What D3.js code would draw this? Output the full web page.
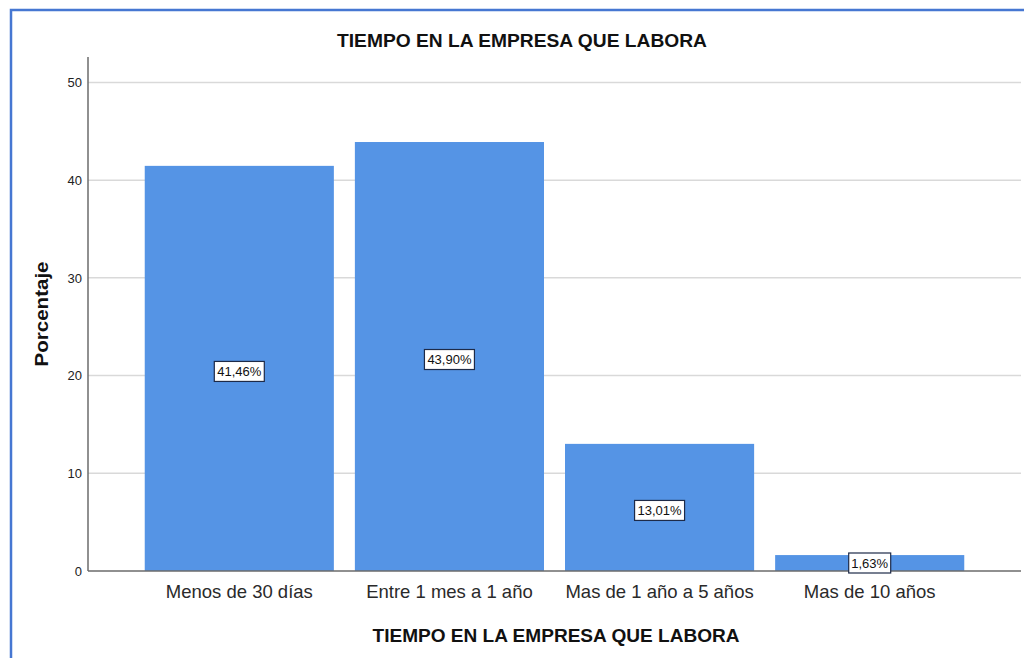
<!DOCTYPE html>
<html>
<head>
<meta charset="utf-8">
<script src="https://cdn.jsdelivr.net/npm/d3@7"></script>
<style>
  body { margin: 0; background: #fff; }
  svg { display: block; font-family: "Liberation Sans", Arial, sans-serif; }
</style>
</head>
<body>
<svg width="1024" height="658"></svg>
<script>
'use strict';

var categories = ["Menos de 30 días", "Entre 1 mes a 1 año", "Mas de 1 año a 5 años", "Mas de 10 años"];
var values = [41.46, 43.90, 13.01, 1.63];
var valueLabels = ["41,46%", "43,90%", "13,01%", "1,63%"];
var yTicks = [0, 10, 20, 30, 40, 50];

var chartTitle = "TIEMPO EN LA EMPRESA QUE LABORA";
var xTitle = "TIEMPO EN LA EMPRESA QUE LABORA";
var yTitle = "Porcentaje";

var svg = d3.select("svg");

// outer frame
svg.append("rect")
  .attr("x", 11).attr("y", 10)
  .attr("width", 1100).attr("height", 800)
  .attr("fill", "none")
  .attr("stroke", "#4677d2")
  .attr("stroke-width", 2.5);

// plot area
var plotLeft = 88, plotRight = 1021, plotTop = 57, plotBottom = 571;

var x = d3.scaleBand()
  .domain(categories)
  .range([plotLeft, plotRight])
  .paddingInner(0.1)
  .paddingOuter(0.27);

var y = d3.scaleLinear().domain([0, 52.6]).range([plotBottom, plotTop]);

// gridlines
svg.append("g")
  .selectAll("line")
  .data(yTicks.filter(function(d) { return d > 0; }))
  .enter()
  .append("line")
  .attr("x1", plotLeft).attr("x2", plotRight)
  .attr("y1", function(d) { return y(d); })
  .attr("y2", function(d) { return y(d); })
  .attr("stroke", "#d9d9d9")
  .attr("stroke-width", 1.5);

// bars
svg.append("g")
  .selectAll("rect")
  .data(values)
  .enter()
  .append("rect")
  .attr("x", function(d, i) { return x(categories[i]); })
  .attr("y", function(d) { return y(d); })
  .attr("width", x.bandwidth())
  .attr("height", function(d) { return y(0) - y(d); })
  .attr("fill", "#5594e5");

// y axis
var yAxis = svg.append("g")
  .attr("transform", "translate(" + plotLeft + ",0)")
  .call(d3.axisLeft(y).tickValues(yTicks).tickSize(0).tickPadding(6));
yAxis.select(".domain").remove();
yAxis.selectAll("text")
  .attr("font-size", 13)
  .attr("fill", "#222")
  .attr("font-family", "Liberation Sans, Arial, sans-serif");

svg.append("line")
  .attr("x1", plotLeft).attr("x2", plotLeft)
  .attr("y1", plotTop).attr("y2", plotBottom)
  .attr("stroke", "#6b6b6b").attr("stroke-width", 1.5);

// x axis
var xAxis = svg.append("g")
  .attr("transform", "translate(0," + plotBottom + ")")
  .call(d3.axisBottom(x).tickSize(0).tickPadding(14));
xAxis.select(".domain").remove();
xAxis.selectAll("text")
  .attr("font-size", 18.5)
  .attr("fill", "#2a2a2a")
  .attr("font-family", "Liberation Sans, Arial, sans-serif");

svg.append("line")
  .attr("x1", plotLeft).attr("x2", plotRight)
  .attr("y1", plotBottom).attr("y2", plotBottom)
  .attr("stroke", "#6b6b6b").attr("stroke-width", 1.5);

// value labels in boxes
var labels = svg.append("g")
  .selectAll("g")
  .data(values)
  .enter()
  .append("g")
  .attr("transform", function(d, i) {
    var cx = x(categories[i]) + x.bandwidth() / 2;
    var cy = Math.min(y(d / 2) + 3, plotBottom - 8);
    return "translate(" + cx + "," + cy + ")";
  });

labels.append("rect")
  .attr("x", function(d, i) { return valueLabels[i].length > 5 ? -25 : -21; })
  .attr("y", -10)
  .attr("width", function(d, i) { return valueLabels[i].length > 5 ? 50 : 42; })
  .attr("height", 20)
  .attr("fill", "#fff")
  .attr("stroke", "#1d2a48")
  .attr("stroke-width", 1.2);

labels.append("text")
  .attr("text-anchor", "middle")
  .attr("dy", "0.36em")
  .attr("font-size", 13)
  .attr("fill", "#111")
  .text(function(d, i) { return valueLabels[i]; });

// titles
svg.append("text")
  .attr("x", 522).attr("y", 47)
  .attr("text-anchor", "middle")
  .attr("font-size", 19)
  .attr("font-weight", "bold")
  .attr("fill", "#111")
  .attr("textLength", 370)
  .attr("lengthAdjust", "spacingAndGlyphs")
  .text(chartTitle);

svg.append("text")
  .attr("x", 556).attr("y", 642)
  .attr("text-anchor", "middle")
  .attr("font-size", 19)
  .attr("font-weight", "bold")
  .attr("fill", "#111")
  .attr("textLength", 367)
  .attr("lengthAdjust", "spacingAndGlyphs")
  .text(xTitle);

svg.append("text")
  .attr("transform", "translate(48,314) rotate(-90)")
  .attr("text-anchor", "middle")
  .attr("font-size", 19)
  .attr("font-weight", "bold")
  .attr("fill", "#111")
  .attr("textLength", 105)
  .attr("lengthAdjust", "spacingAndGlyphs")
  .text(yTitle);
</script>
</body>
</html>
